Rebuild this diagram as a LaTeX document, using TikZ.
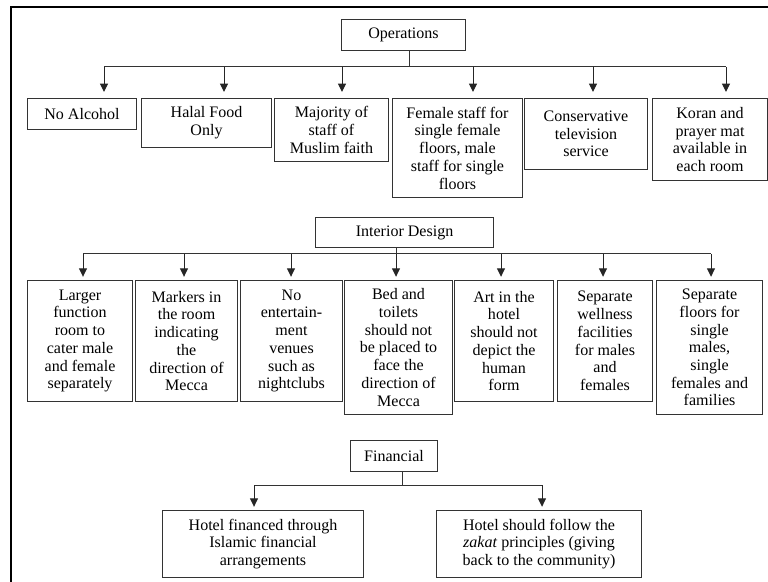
\documentclass[tikz,border=0pt]{standalone}
\usepackage{fontspec}
\setmainfont{Liberation Serif}
\usetikzlibrary{arrows.meta}
\begin{document}
\begin{tikzpicture}[x=0.025cm,y=-0.025cm,
    itembox/.style={draw=black!80, line width=0.025cm, anchor=north west, align=center,
      inner sep=0pt, font=\rmfamily\fontsize{11.4}{12.6}\selectfont},
    feed/.style={draw=black!85, line width=0.025cm, -{Triangle[length=0.21cm,width=0.2cm]},
      shorten >=0.08cm},
    bus/.style={draw=black!80, line width=0.025cm}]
  % \clip (0,0) rectangle (768,582);
  \useasboundingbox (0,0) rectangle (768,582);

  % Open frame, left and top sides only
  \draw [line width=0.05cm] (11,582) -- (11,7) -- (768,7);%

  % Operations and its six items
  \node [itembox, minimum width=3.1cm, minimum height=0.775cm] (ops) at (341,19) {Operations};%
  \node [itembox, minimum width=2.725cm, minimum height=0.775cm] (noalc) at (27,98) {No Alcohol};%
  \node [itembox, minimum width=3.25cm, minimum height=1.225cm] (halal) at (141,98) {Halal Food\\Only};%
  \node [itembox, minimum width=2.85cm, minimum height=1.575cm] (majority) at (274,98) {Majority of\\staff of\\Muslim faith};%
  \node [itembox, minimum width=3.25cm, minimum height=2.475cm] (femstaff) at (392,98) {Female staff for\\single female\\floors, male\\staff for single\\floors};%
  \node [itembox, minimum width=3.075cm, minimum height=1.775cm] (tvserv) at (524,98) {Conservative\\television\\service};%
  \node [itembox, minimum width=2.875cm, minimum height=2.05cm] (koran) at (652,98) {Koran and\\prayer mat\\available in\\each room};%

  % Operations connectors
  \coordinate (otrunk) at (409,67);%
  \coordinate (o1) at (104,67);%
  \coordinate (o2) at (224,67);%
  \coordinate (o3) at (342,67);%
  \coordinate (o4) at (473,67);%
  \coordinate (o5) at (593,67);%
  \coordinate (o6) at (726,67);%
  \draw [bus] (ops.south -| otrunk) -- (otrunk);%
  \draw [bus] (o1) -- (o6);%
  \foreach \src/\dst in {o1/noalc,o2/halal,o3/majority,o4/femstaff,o5/tvserv,o6/koran}
    \draw [feed, shorten >=0.15cm] (\src) -- (\src |- \dst.north);%

  % Interior Design and its seven items
  \node [itembox, minimum width=4.45cm, minimum height=0.75cm] (interior) at (315,217) {Interior Design};%
  \node [itembox, minimum width=2.625cm, minimum height=3.025cm] (function) at (27,280) {Larger\\function\\room to\\cater male\\and female\\separately};%
  \node [itembox, minimum width=2.55cm, minimum height=3.025cm] (markers) at (135,280) {Markers in\\the room\\indicating\\the\\direction of\\Mecca};%
  \node [itembox, minimum width=2.55cm, minimum height=3.025cm] (noent) at (240,280) {No\\entertain-\\ment\\venues\\such as\\nightclubs};%
  \node [itembox, minimum width=2.7cm, minimum height=3.35cm] (bedtoilet) at (344,280) {Bed and\\toilets\\should not\\be placed to\\face the\\direction of\\Mecca};%
  \node [itembox, minimum width=2.475cm, minimum height=3.025cm] (art) at (454,280) {Art in the\\hotel\\should not\\depict the\\human\\form};%
  \node [itembox, minimum width=2.375cm, minimum height=3.025cm] (wellness) at (557,280) {Separate\\wellness\\facilities\\for males\\and\\females};%
  \node [itembox, minimum width=2.65cm, minimum height=3.35cm] (floors) at (656,280) {Separate\\floors for\\single\\males,\\single\\females and\\families};%

  % Interior Design connectors
  \coordinate (itrunk) at (396,254);%
  \coordinate (i1) at (83,254);%
  \coordinate (i2) at (184,254);%
  \coordinate (i3) at (291,254);%
  \coordinate (i4) at (396,254);%
  \coordinate (i5) at (501,254);%
  \coordinate (i6) at (603,254);%
  \coordinate (i7) at (711,254);%
  \draw [bus] (interior.south -| itrunk) -- (itrunk);%
  \draw [bus] (i1) -- (i7);%
  \foreach \src/\dst in {i1/function,i2/markers,i3/noent,i4/bedtoilet,i5/art,i6/wellness,i7/floors}
    \draw [feed] (\src) -- (\src |- \dst.north);%

  % Financial and its two items
  \node [itembox, minimum width=2.175cm, minimum height=0.775cm] (financial) at (350,440) {Financial};%
  \node [itembox, minimum width=5.025cm, minimum height=1.675cm] (islamic) at (162,510) {Hotel financed through\\Islamic financial\\arrangements};%
  \node [itembox, minimum width=5.125cm, minimum height=1.675cm] (zakat) at (436,510) {Hotel should follow the\\\textit{zakat} principles (giving\\back to the community)};%

  % Financial connectors
  \coordinate (ftrunk) at (402,485);%
  \coordinate (f1) at (254,485);%
  \coordinate (f2) at (542,485);%
  \draw [bus] (financial.south -| ftrunk) -- (ftrunk);%
  \draw [bus] (f1) -- (f2);%
  \draw [feed] (f1) -- (f1 |- islamic.north);%
  \draw [feed] (f2) -- (f2 |- zakat.north);%
\end{tikzpicture}
\end{document}
